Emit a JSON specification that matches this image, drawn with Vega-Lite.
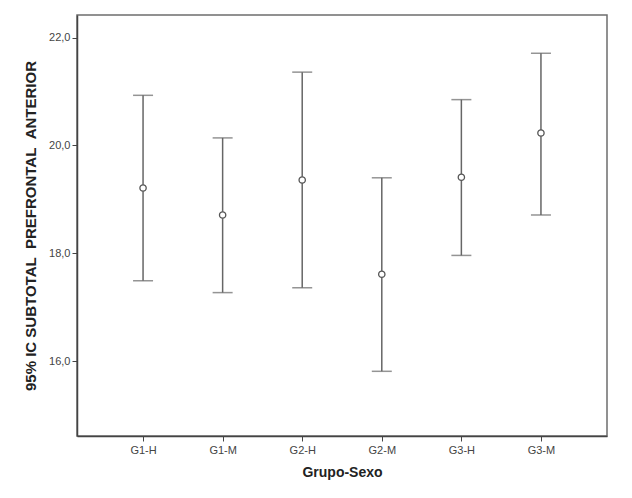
{
  "$schema": "https://vega.github.io/schema/vega-lite/v6.json",
  "autosize": {"type": "none"},
  "padding": {"left": 77, "top": 15, "right": 25, "bottom": 62},
  "width": 530,
  "height": 421,
  "background": "white",
  "config": {
    "view": {"stroke": "#6e6e6e", "strokeWidth": 1.5},
    "font": "Liberation Sans"
  },
  "data": {
    "values": [
      {"grupo": "G1-H", "lower": 17.49, "mean": 19.21, "upper": 20.93},
      {"grupo": "G1-M", "lower": 17.27, "mean": 18.71, "upper": 20.14},
      {"grupo": "G2-H", "lower": 17.36, "mean": 19.36, "upper": 21.36},
      {"grupo": "G2-M", "lower": 15.81, "mean": 17.61, "upper": 19.40},
      {"grupo": "G3-H", "lower": 17.96, "mean": 19.41, "upper": 20.85},
      {"grupo": "G3-M", "lower": 18.71, "mean": 20.23, "upper": 21.71}
    ]
  },
  "encoding": {
    "x": {
      "field": "grupo", "type": "nominal",
      "scale": {"type": "point", "padding": 0.83},
      "axis": {
        "title": "Grupo-Sexo", "titleFontSize": 14, "titleFontWeight": "bold", "titleColor": "#222",
        "titlePadding": 10,
        "labelAngle": 0, "labelFontSize": 11, "labelColor": "#444", "labelPadding": 3,
        "tickSize": 5, "tickColor": "#444", "domainColor": "#444", "domainWidth": 1.5, "grid": false
      }
    }
  },
  "layer": [
    {
      "mark": {"type": "rule", "color": "#666", "strokeWidth": 1.5},
      "encoding": {
        "y": {
          "field": "lower", "type": "quantitative",
          "scale": {"domain": [14.61, 22.42], "nice": false, "zero": false},
          "axis": {
            "title": "95% IC SUBTOTAL\u00a0\u00a0PREFRONTAL\u00a0\u00a0ANTERIOR", "titleFontSize": 15, "titleFontWeight": "bold", "titleColor": "#222",
            "titlePadding": 10,
            "values": [16, 18, 20, 22],
            "labelExpr": "replace(format(datum.value, '.1f'), '.', ',')",
            "labelFontSize": 11, "labelColor": "#444", "labelPadding": 2,
            "tickSize": 5, "tickColor": "#444", "domainColor": "#444", "domainWidth": 1.5, "grid": false
          }
        },
        "y2": {"field": "upper"}
      }
    },
    {
      "mark": {"type": "tick", "color": "#666", "size": 20, "thickness": 1.5, "orient": "horizontal"},
      "encoding": {"y": {"field": "lower", "type": "quantitative"}}
    },
    {
      "mark": {"type": "tick", "color": "#666", "size": 20, "thickness": 1.5, "orient": "horizontal"},
      "encoding": {"y": {"field": "upper", "type": "quantitative"}}
    },
    {
      "mark": {"type": "point", "shape": "circle", "filled": false, "fill": "white", "fillOpacity": 1, "stroke": "#555", "strokeWidth": 1.3, "size": 40, "opacity": 1},
      "encoding": {"y": {"field": "mean", "type": "quantitative"}}
    }
  ]
}
